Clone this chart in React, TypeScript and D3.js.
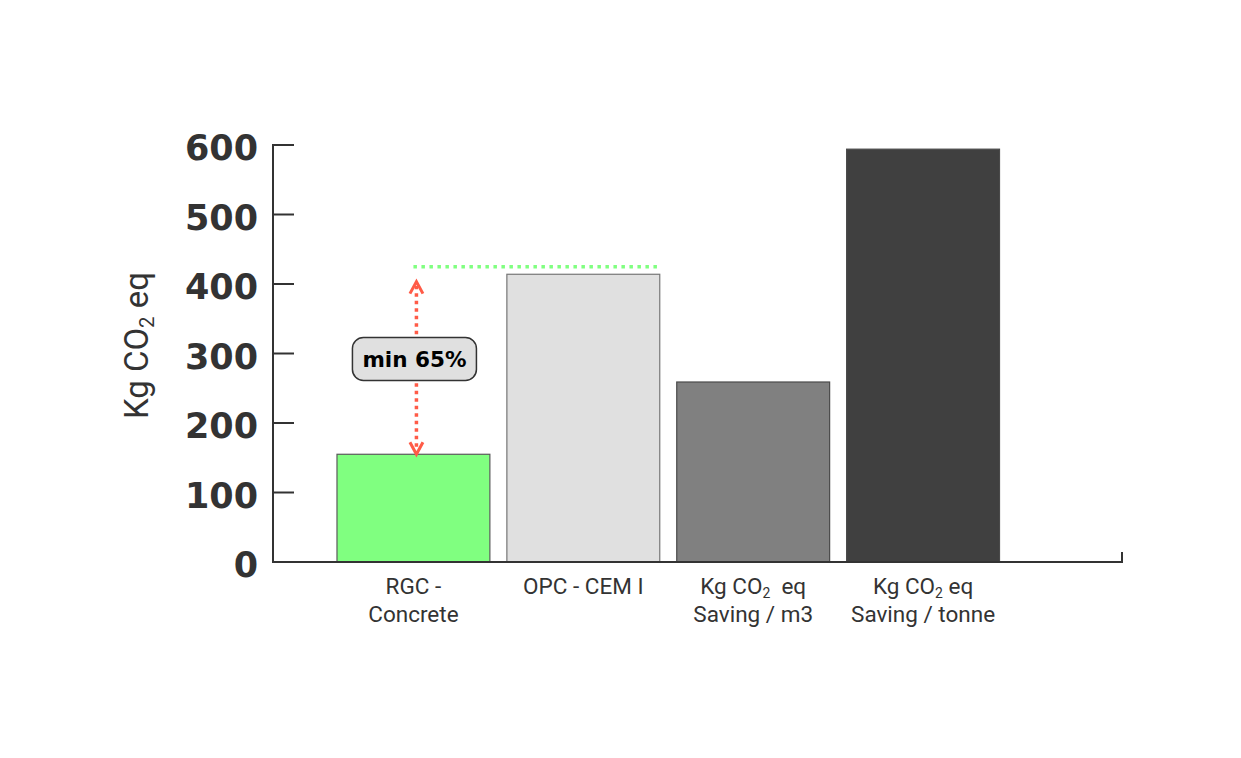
import React from 'react';
import * as d3 from 'd3';

// categories and values
const categories = ['RGC', 'OPC', 'SAVE_M3', 'SAVE_T'];
const labelLines = [
  ['RGC -', 'Concrete'],
  ['OPC - CEM I'],
  ['Kg CO₂\u00a0 eq', 'Saving / m3'],
  ['Kg CO₂ eq', 'Saving / tonne'],
];
const values = [155, 414, 259, 594];
const fills = ['#80ff80', '#e0e0e0', '#808080', '#404040'];
const strokes = ['#5a5a5a', '#777777', '#4a4a4a', '#4a4a4a'];
const yTicks = [0, 100, 200, 300, 400, 500, 600];

// annotation values
const targetValue = 425;
const badgeValue = 292;
const badgeText = 'min 65%';

const W = 1241;
const H = 758;
const axisX = 273;
const axisRight = 1122;
const yTop = 145;
const yBottom = 562;

const textColor = '#333333';
const red = '#ff5b47';

// render "CO₂" with a real subscript tspan
const renderSub = (s: string) => {
  const parts = s.split('₂');
  const out: React.ReactNode[] = [];
  parts.forEach((p, i) => {
    if (i > 0) {
      out.push(
        <tspan key={'s' + i} fontSize="0.62em" dy="0.3em">2</tspan>
      );
    }
    if (p.length) {
      out.push(
        <tspan key={'p' + i} dy={i > 0 ? '-0.186em' : undefined}>{p}</tspan>
      );
    }
  });
  return out;
};

export default function App() {
  const y = d3.scaleLinear().domain([0, 600]).range([yBottom, yTop]);
  const x = d3
    .scaleBand<string>()
    .domain(categories)
    .range([320, 1016.5])
    .paddingInner(0.1)
    .paddingOuter(0.1);
  const bw = x.bandwidth();

  const arrowX = (x('RGC') as number) + bw / 2 + 3;
  const arrowTop = y(targetValue) + 15;
  const arrowBottom = y(values[0]);
  const lineEnd = (x('OPC') as number) + bw;
  const badgeY = y(badgeValue);
  const badgeW = 124;
  const badgeH = 43;
  const head = 6.5;

  return (
    <svg
      width={W}
      height={H}
      style={{ position: 'absolute', left: 0, top: 0, background: '#fff' }}
    >
      {/* bars */}
      {categories.map((c, i) => (
        <rect
          key={c}
          x={x(c)}
          y={y(values[i])}
          width={bw}
          height={y(0) - y(values[i])}
          fill={fills[i]}
          stroke={strokes[i]}
          strokeWidth={1.2}
        />
      ))}

      {/* y axis */}
      <line x1={axisX} x2={axisX} y1={y(600) - 1} y2={yBottom + 1} stroke={textColor} strokeWidth={2} />
      {yTicks.map(t => (
        <g key={t}>
          <line x1={axisX} x2={axisX + 21} y1={y(t)} y2={y(t)} stroke={textColor} strokeWidth={2} />
          <text
            x={axisX - 15}
            y={y(t) + 15}
            textAnchor="end"
            fontFamily="'DejaVu Sans', sans-serif"
            fontWeight={700}
            fontSize={35}
            fill={textColor}
          >
            {t}
          </text>
        </g>
      ))}

      {/* x axis */}
      <line x1={axisX} x2={axisRight} y1={yBottom} y2={yBottom} stroke={textColor} strokeWidth={2} />
      <line x1={axisRight} x2={axisRight} y1={yBottom + 1} y2={yBottom - 10} stroke={textColor} strokeWidth={2} />
      {categories.map((c, i) => (
        <text
          key={c}
          x={(x(c) as number) + bw / 2}
          y={594}
          textAnchor="middle"
          fontFamily="Roboto, sans-serif"
          fontSize={22.5}
          fill={textColor}
        >
          {labelLines[i].map((ln, j) => (
            <tspan key={j} x={(x(c) as number) + bw / 2} y={594 + j * 28}>
              {renderSub(ln)}
            </tspan>
          ))}
        </text>
      ))}

      {/* y title */}
      <text
        transform={`translate(148, ${(yTop + yBottom) / 2 - 8}) rotate(-90)`}
        textAnchor="middle"
        fontFamily="Roboto, sans-serif"
        fontSize={33}
        fill={textColor}
      >
        {renderSub('Kg CO₂ eq')}
      </text>

      {/* annotation: target line */}
      <line
        x1={arrowX - 3}
        x2={lineEnd}
        y1={y(targetValue)}
        y2={y(targetValue)}
        stroke="#80ff80"
        strokeWidth={3.5}
        strokeDasharray="3.5 4.5"
      />
      {/* double arrow */}
      <line
        x1={arrowX}
        x2={arrowX}
        y1={arrowTop + 4}
        y2={arrowBottom - 4}
        stroke={red}
        strokeWidth={3.5}
        strokeDasharray="3.5 4"
      />
      <polyline
        points={`${arrowX - head},${arrowTop + 12} ${arrowX},${arrowTop} ${arrowX + head},${arrowTop + 12}`}
        fill="none"
        stroke={red}
        strokeWidth={3}
      />
      <polyline
        points={`${arrowX - head},${arrowBottom - 12} ${arrowX},${arrowBottom} ${arrowX + head},${arrowBottom - 12}`}
        fill="none"
        stroke={red}
        strokeWidth={3}
      />
      <rect
        x={arrowX - 2 - badgeW / 2}
        y={badgeY - badgeH / 2}
        width={badgeW}
        height={badgeH}
        rx={11}
        fill="#e0e0e0"
        stroke={textColor}
        strokeWidth={1.5}
      />
      <text
        x={arrowX - 2}
        y={badgeY + 8}
        textAnchor="middle"
        fontFamily="'DejaVu Sans', sans-serif"
        fontWeight={700}
        fontSize={21.5}
        fill="#000"
      >
        {badgeText}
      </text>
    </svg>
  );
}
